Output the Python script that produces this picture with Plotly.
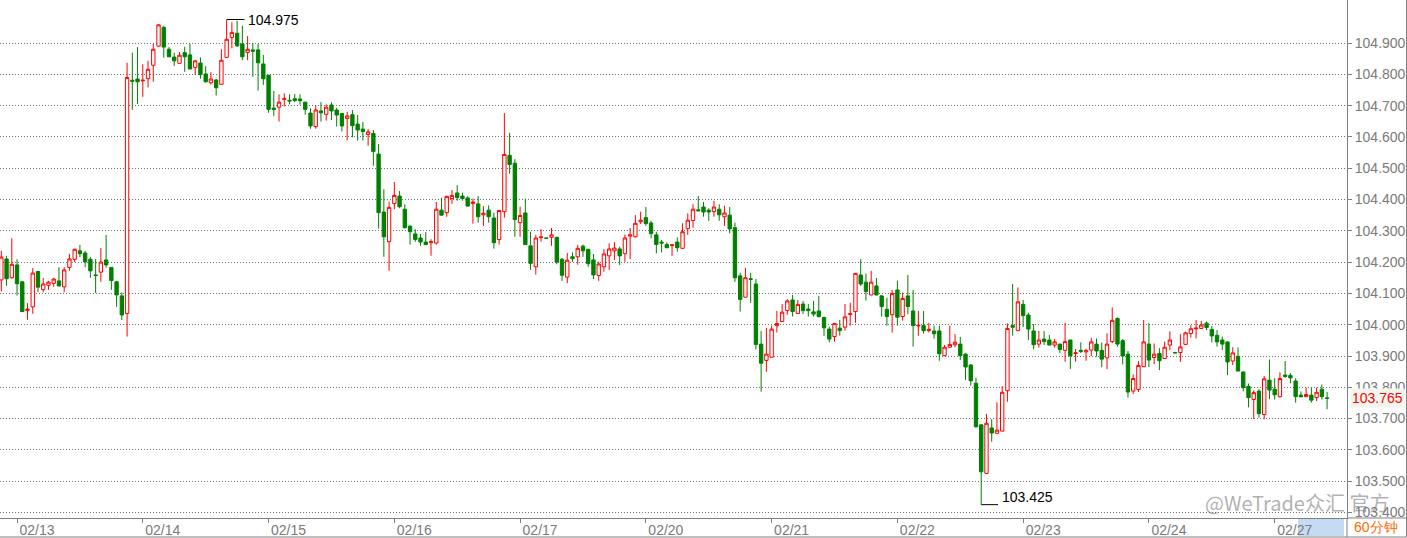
import plotly.graph_objects as go

# ---- data (60-minute USD index candles) ----
open_ = [104.143,104.210,104.150,104.191,104.137,104.045,104.057,104.170,104.112,104.126,
104.132,104.140,104.121,104.183,104.209,104.236,104.229,104.209,104.159,104.168,
104.207,104.183,104.137,104.092,104.036,104.781,104.785,104.779,104.786,104.829,
104.890,104.950,104.880,104.855,104.835,104.869,104.862,104.822,104.836,104.801,
104.773,104.782,104.768,104.854,104.918,104.931,104.897,104.870,104.878,104.878,
104.833,104.797,104.692,104.695,104.720,104.717,104.722,104.721,104.711,104.676,
104.633,104.683,104.672,104.702,104.686,104.675,104.659,104.671,104.641,104.625,
104.608,104.611,104.545,104.360,104.265,104.387,104.411,104.369,104.315,104.290,
104.277,104.264,104.262,104.261,104.366,104.358,104.403,104.421,104.411,104.405,
104.387,104.386,104.351,104.366,104.341,104.272,104.361,104.541,104.516,104.326,
104.357,104.252,104.185,104.278,104.277,104.279,104.279,104.209,104.152,104.217,
104.217,104.251,104.241,104.207,104.157,104.185,104.220,104.236,104.242,104.227,
104.283,104.281,104.329,104.342,104.325,104.287,104.264,104.256,104.253,104.264,
104.244,104.307,104.333,104.367,104.376,104.366,104.361,104.369,104.345,104.350,
104.310,104.156,104.088,104.147,104.130,103.938,103.886,103.896,103.997,104.010,
104.045,104.079,104.036,104.066,104.050,104.041,104.044,104.023,103.986,103.962,
103.989,103.992,104.033,104.042,104.159,104.136,104.095,104.124,104.092,104.049,
104.032,104.111,104.026,104.092,104.044,103.996,103.997,103.981,103.980,103.980,
103.901,103.928,103.936,103.938,103.906,103.871,103.813,103.680,103.525,103.670,
103.653,103.660,103.789,103.997,103.981,104.065,104.031,103.980,103.938,103.954,
103.951,103.935,103.938,103.918,103.951,103.908,103.918,103.913,103.919,103.938,
103.918,103.894,103.946,104.020,103.949,103.906,103.788,103.793,103.866,103.938,
103.895,103.908,103.892,103.935,103.911,103.911,103.937,103.972,103.987,103.988,
104.005,103.985,103.966,103.951,103.945,103.884,103.899,103.849,103.803,103.761,
103.788,103.713,103.823,103.794,103.770,103.839,103.838,103.820,103.775,103.770,
103.775,103.767,103.794,103.766]

high = [104.236,104.220,104.276,104.209,104.138,104.069,104.181,104.172,104.149,104.140,
104.150,104.184,104.184,104.226,104.243,104.255,104.236,104.216,104.210,104.245,
104.287,104.184,104.140,104.103,104.837,104.869,104.887,104.832,104.843,104.897,
104.961,104.955,104.887,104.869,104.871,104.888,104.897,104.846,104.854,104.826,
104.807,104.785,104.880,104.975,104.966,104.971,104.955,104.922,104.899,104.897,
104.862,104.798,104.747,104.736,104.739,104.736,104.737,104.736,104.712,104.691,
104.701,104.711,104.704,104.711,104.693,104.676,104.680,104.686,104.670,104.648,
104.625,104.622,104.577,104.433,104.393,104.456,104.427,104.385,104.316,104.305,
104.290,104.296,104.273,104.392,104.406,104.412,104.430,104.446,104.422,104.411,
104.403,104.411,104.379,104.381,104.358,104.366,104.676,104.613,104.529,104.377,
104.403,104.297,104.287,104.305,104.278,104.309,104.281,104.213,104.229,104.231,
104.255,104.256,104.242,104.226,104.201,104.242,104.260,104.264,104.249,104.288,
104.309,104.350,104.361,104.376,104.332,104.297,104.271,104.263,104.256,104.279,
104.324,104.356,104.385,104.411,104.392,104.372,104.396,104.385,104.380,104.376,
104.326,104.166,104.182,104.166,104.146,103.980,103.990,103.997,104.044,104.066,
104.081,104.095,104.079,104.076,104.066,104.076,104.092,104.026,103.994,104.005,
104.015,104.066,104.070,104.165,104.209,104.164,104.172,104.149,104.095,104.086,
104.111,104.141,104.103,104.159,104.111,104.044,104.044,104.006,103.997,103.997,
103.935,103.997,103.970,103.961,103.909,103.874,103.831,103.682,103.715,103.698,
103.752,103.804,104.004,104.130,104.119,104.079,104.038,104.002,103.980,103.980,
103.967,103.954,103.939,104.006,103.952,103.922,103.944,103.923,103.958,103.956,
103.943,103.972,104.055,104.023,103.954,103.916,103.841,103.884,104.015,104.005,
103.940,103.925,103.946,103.979,103.912,103.970,103.978,103.998,104.015,104.012,
104.010,103.996,103.983,103.962,103.946,103.928,103.927,103.850,103.812,103.790,
103.794,103.836,103.889,103.829,103.848,103.884,103.846,103.829,103.787,103.799,
103.799,103.799,103.809,103.785]

low = [104.106,104.124,104.147,104.093,104.040,104.016,104.035,104.104,104.104,104.111,
104.121,104.122,104.104,104.172,104.200,104.216,104.184,104.150,104.101,104.137,
104.182,104.111,104.057,104.015,103.962,104.687,104.705,104.728,104.758,104.776,
104.889,104.853,104.855,104.827,104.834,104.808,104.816,104.799,104.786,104.774,
104.767,104.732,104.767,104.853,104.883,104.888,104.845,104.845,104.792,104.748,
104.766,104.677,104.667,104.649,104.697,104.704,104.711,104.703,104.671,104.626,
104.626,104.649,104.652,104.654,104.633,104.617,104.589,104.599,104.588,104.588,
104.572,104.508,104.307,104.217,104.172,104.369,104.372,104.307,104.256,104.265,
104.252,104.255,104.220,104.256,104.349,104.345,104.386,104.396,104.396,104.377,
104.323,104.326,104.316,104.326,104.243,104.256,104.342,104.482,104.281,104.281,
104.255,104.175,104.160,104.265,104.275,104.252,104.193,104.140,104.133,104.201,
104.192,104.217,104.185,104.146,104.140,104.169,104.175,104.207,104.191,104.201,
104.210,104.278,104.322,104.316,104.276,104.228,104.231,104.244,104.220,104.233,
104.243,104.287,104.310,104.363,104.345,104.332,104.345,104.332,104.316,104.292,
104.137,104.042,104.087,104.070,103.921,103.786,103.850,103.895,103.975,104.009,
104.032,104.026,104.035,104.034,104.026,104.026,104.023,103.964,103.944,103.946,
103.965,103.981,103.997,104.006,104.124,104.077,104.094,104.094,104.026,103.997,
103.975,103.997,104.013,104.034,103.930,103.965,103.972,103.975,103.955,103.885,
103.900,103.927,103.928,103.887,103.823,103.805,103.671,103.425,103.524,103.626,
103.652,103.659,103.754,103.965,103.980,103.992,103.951,103.921,103.927,103.935,
103.934,103.927,103.909,103.882,103.858,103.882,103.909,103.885,103.900,103.898,
103.864,103.858,103.941,103.930,103.873,103.767,103.779,103.785,103.865,103.865,
103.874,103.855,103.891,103.919,103.909,103.881,103.936,103.959,103.956,103.987,
103.983,103.943,103.930,103.919,103.839,103.871,103.851,103.787,103.736,103.699,
103.703,103.698,103.762,103.761,103.767,103.830,103.813,103.751,103.767,103.769,
103.751,103.756,103.761,103.730]

close = [104.216,104.147,104.193,104.131,104.042,104.050,104.165,104.120,104.130,104.136,
104.146,104.124,104.175,104.210,104.241,104.227,104.201,104.172,104.157,104.200,
104.191,104.141,104.095,104.031,104.790,104.778,104.776,104.781,104.816,104.880,
104.958,104.887,104.856,104.843,104.861,104.856,104.817,104.843,104.799,104.776,
104.785,104.757,104.845,104.912,104.934,104.891,104.856,104.880,104.874,104.837,
104.786,104.688,104.688,104.711,104.722,104.715,104.716,104.716,104.688,104.635,
104.686,104.677,104.695,104.683,104.670,104.635,104.667,104.636,104.622,104.617,
104.616,104.553,104.358,104.281,104.375,104.413,104.377,104.310,104.297,104.272,
104.264,104.256,104.265,104.369,104.350,104.410,104.413,104.406,104.403,104.379,
104.392,104.345,104.356,104.345,104.262,104.365,104.544,104.512,104.336,104.349,
104.256,104.196,104.277,104.280,104.276,104.287,104.200,104.158,104.206,104.211,
104.244,104.236,104.195,104.159,104.194,104.226,104.242,104.245,104.220,104.277,
104.287,104.324,104.334,104.323,104.291,104.256,104.261,104.246,104.255,104.246,
104.297,104.334,104.369,104.364,104.360,104.360,104.376,104.351,104.357,104.306,
104.150,104.081,104.150,104.145,103.937,103.877,103.906,103.986,104.004,104.040,
104.076,104.042,104.065,104.045,104.045,104.034,104.026,103.990,103.954,104.004,
103.981,104.025,104.035,104.164,104.130,104.106,104.136,104.095,104.058,104.026,
104.100,104.024,104.084,104.058,103.997,103.998,103.981,103.985,103.971,103.907,
103.928,103.937,103.944,103.901,103.865,103.821,103.674,103.530,103.685,103.654,
103.663,103.784,103.988,103.992,104.073,104.029,103.986,103.936,103.951,103.946,
103.935,103.945,103.921,103.946,103.901,103.910,103.915,103.917,103.945,103.916,
103.890,103.938,104.014,103.938,103.900,103.785,103.828,103.870,103.945,103.887,
103.906,103.885,103.928,103.951,103.910,103.929,103.974,103.987,103.989,103.999,
103.991,103.964,103.945,103.938,103.881,103.910,103.852,103.799,103.767,103.783,
103.716,103.827,103.791,103.776,103.828,103.835,103.830,103.770,103.770,103.777,
103.759,103.784,103.770,103.765]

day_labels = ["02/13", "02/14", "02/15", "02/16", "02/17", "02/20",
              "02/21", "02/22", "02/23", "02/24", "02/27"]
day_start_index = [3, 27, 51, 75, 99, 123, 147, 171, 195, 219, 243]
price_ticks = [103.4, 103.5, 103.6, 103.7, 103.8, 103.9, 104.0,
               104.1, 104.2, 104.3, 104.4, 104.5, 104.6, 104.7, 104.8, 104.9]
period_label = "60分钟"
watermark = "@WeTrade众汇 官方"

x = list(range(len(open_)))

FONT = "Arial, 'Liberation Sans', sans-serif"
GRAY = "#808080"
TXT = "#7a7a7a"

fig = go.Figure(go.Candlestick(
    x=x, open=open_, high=high, low=low, close=close,
    increasing=dict(line=dict(color="#ff0000", width=1), fillcolor="#ffffff"),
    decreasing=dict(line=dict(color="#008000", width=1), fillcolor="#008000"),
    whiskerwidth=0, hoverinfo="skip", showlegend=False,
))

fig.update_layout(
    width=1407, height=538,
    margin=dict(l=0, r=60, t=0, b=20),
    paper_bgcolor="white", plot_bgcolor="white",
    showlegend=False,
    boxgap=0.2, boxgroupgap=0.2,
    font=dict(family=FONT, size=14, color=TXT),
)

fig.update_xaxes(
    range=[-0.25, 256.8],
    rangeslider_visible=False,
    tickvals=day_start_index, ticktext=day_labels,
    ticks="outside", ticklen=4, tickcolor=GRAY, tickwidth=1,
    ticklabelshift=20, ticklabelstandoff=-5,
    tickfont=dict(family=FONT, size=14, color=TXT),
    showgrid=False, zeroline=False,
    showline=True, linecolor=GRAY, linewidth=1,
)

fig.update_yaxes(
    side="right",
    range=[103.3824, 105.0374],
    tickvals=price_ticks, tickformat=".3f",
    ticks="outside", ticklen=4, tickcolor=GRAY,
    tickfont=dict(family=FONT, size=14, color=TXT),
    showgrid=True, gridcolor="#707070", griddash="1px,2px", gridwidth=1,
    zeroline=False, showline=True, linecolor=GRAY, linewidth=1,
)

# high / low markers derived from the data
i_hi = max(range(len(high)), key=lambda i: high[i])
i_lo = min(range(len(low)), key=lambda i: low[i])
fig.add_shape(type="line", xref="x", yref="y", x0=i_hi, x1=i_hi + 3.4,
              y0=high[i_hi], y1=high[i_hi], line=dict(color="black", width=1))
fig.add_annotation(x=i_hi + 3.6, y=high[i_hi], xref="x", yref="y",
                   text=f"{high[i_hi]:.3f}", showarrow=False,
                   xanchor="left", yanchor="middle",
                   font=dict(family=FONT, size=14, color="black"))
fig.add_shape(type="line", xref="x", yref="y", x0=i_lo, x1=i_lo + 3.2,
              y0=low[i_lo], y1=low[i_lo], line=dict(color="black", width=1))
fig.add_annotation(x=i_lo + 3.5, y=low[i_lo], xref="x", yref="y",
                   text=f"{low[i_lo]:.3f}", showarrow=False,
                   xanchor="left", yanchor="bottom", yshift=-2,
                   font=dict(family=FONT, size=14, color="black"))

# last price tag
fig.add_annotation(x=1.002, y=close[-1], xref="paper", yref="y",
                   text=f"{close[-1]:.3f}", showarrow=False,
                   xanchor="left", yanchor="middle", bgcolor="#eef6ee",
                   borderpad=1,
                   font=dict(family=FONT, size=14, color="#ff0000"))

# frame pieces outside the plotting area
R = 1406.5 / 1347
B = -(537 - 518) / 518
fig.add_shape(type="line", xref="paper", yref="paper", x0=0, x1=R, y0=B, y1=B,
              line=dict(color=GRAY, width=1))
fig.add_shape(type="line", xref="paper", yref="paper", x0=1, x1=R, y0=0, y1=0,
              line=dict(color=GRAY, width=1))
fig.add_shape(type="line", xref="paper", yref="paper", x0=1, x1=1, y0=B, y1=0,
              line=dict(color=GRAY, width=1))
fig.add_shape(type="line", xref="paper", yref="paper", x0=R, x1=R, y0=B, y1=1,
              line=dict(color=GRAY, width=1))
# scroll handle
fig.add_shape(type="rect", xref="paper", yref="paper",
              x0=1298 / 1347, x1=1344 / 1347, y0=-(536 - 518) / 518, y1=-1 / 518,
              line=dict(width=0), fillcolor="#c5dbf3", layer="below")

fig.add_annotation(x=1352 / 1347, y=-(527 - 518) / 518, xref="paper", yref="paper",
                   text=period_label, showarrow=False, xanchor="left", yanchor="middle",
                   font=dict(family=FONT, size=14, color="#ff6a00"))

fig.add_annotation(x=1203 / 1347, y=(518 - 502) / 518, xref="paper", yref="paper",
                   text=watermark, showarrow=False, xanchor="left", yanchor="middle",
                   font=dict(family="'Noto Sans CJK SC', Arial, sans-serif", size=20,
                             color="rgba(110,110,110,0.55)"))

fig.write_html("out.html")
